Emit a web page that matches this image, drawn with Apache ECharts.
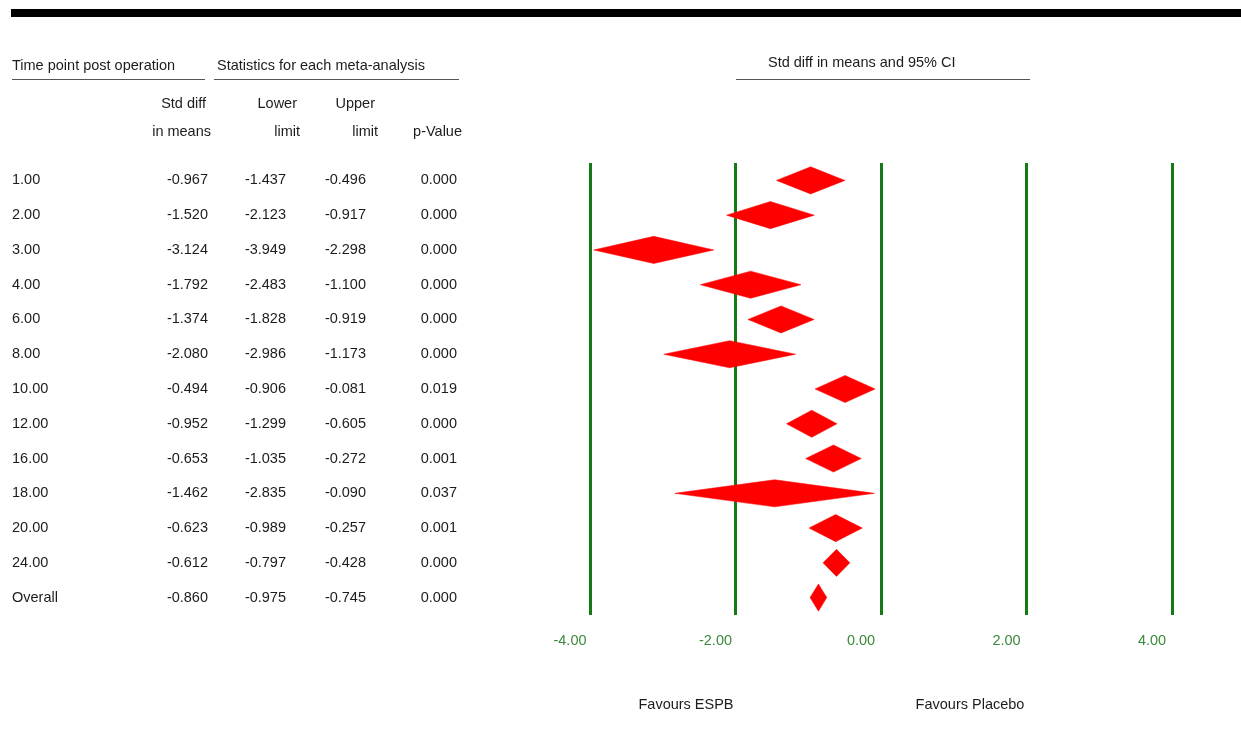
<!DOCTYPE html>
<html>
<head>
<meta charset="utf-8">
<script src="https://cdn.jsdelivr.net/npm/echarts@6/dist/echarts.min.js"></script>
<style>
html,body{margin:0;padding:0;background:#fff;}
#chart{width:1241px;height:738px;}
</style>
</head>
<body>
<div id="chart"></div>
<script>
// ---- data ----
var timePoints = ['1.00','2.00','3.00','4.00','6.00','8.00','10.00','12.00','16.00','18.00','20.00','24.00','Overall'];
var stdDiff = [-0.967,-1.520,-3.124,-1.792,-1.374,-2.080,-0.494,-0.952,-0.653,-1.462,-0.623,-0.612,-0.860];
var lowerLimit = [-1.437,-2.123,-3.949,-2.483,-1.828,-2.986,-0.906,-1.299,-1.035,-2.835,-0.989,-0.797,-0.975];
var upperLimit = [-0.496,-0.917,-2.298,-1.100,-0.919,-1.173,-0.081,-0.605,-0.272,-0.090,-0.257,-0.428,-0.745];
var pValues = ['0.000','0.000','0.000','0.000','0.000','0.000','0.019','0.000','0.001','0.037','0.001','0.000','0.000'];
var xTicks = [-4, -2, 0, 2, 4];

var FONT = '"Liberation Sans", Arial, sans-serif';
var FS = 14.5;
var TXT = '#1c1c1c';

var chart = echarts.init(document.getElementById('chart'), null, {renderer: 'canvas'});

function colAxis(values, offset, align) {
  return {
    type: 'category', data: timePoints, inverse: true, position: 'left', offset: offset,
    axisLine: {show: false}, axisTick: {show: false}, splitLine: {show: false},
    axisLabel: {
      show: true, interval: 0, margin: 0, align: align || 'right', verticalAlign: 'middle',
      padding: [0, 0, 12, 0],
      fontFamily: FONT, fontSize: FS, color: TXT,
      formatter: function (v, i) { return values[i]; }
    }
  };
}

var diamondData = stdDiff.map(function (v, i) { return [i, v, lowerLimit[i], upperLimit[i]]; });

function txt(x, y, s, align, color) {
  return {type: 'text', x: x, y: y, style: {text: s, fill: color || TXT, font: FS + 'px ' + FONT, textAlign: align || 'left', textVerticalAlign: 'middle'}};
}
function hline(x1, x2, y) {
  return {type: 'line', shape: {x1: x1, y1: y, x2: x2, y2: y}, style: {stroke: '#555', lineWidth: 1}};
}

var option = {
  backgroundColor: '#fff',
  animation: false,
  grid: {left: 590, right: 69, top: 163, bottom: 123, containLabel: false},
  xAxis: {
    type: 'value', min: -4, max: 4, interval: 2,
    axisLine: {show: false}, axisTick: {show: false},
    splitLine: {show: true, showMinLine: true, showMaxLine: true, lineStyle: {color: '#157a15', width: 3}},
    axisLabel: {
      margin: 18, fontFamily: FONT, fontSize: FS, color: '#3b8a3b',
      padding: [0, 40, 0, 0],
      formatter: function (v) { return xTicks.indexOf(v) >= 0 ? v.toFixed(2) : ''; }
    }
  },
  yAxis: [
    {type: 'category', data: timePoints, inverse: true, show: false},
    colAxis(timePoints, 578, 'left'),
    colAxis(stdDiff.map(function (v) { return v.toFixed(3); }), 382),
    colAxis(lowerLimit.map(function (v) { return v.toFixed(3); }), 304),
    colAxis(upperLimit.map(function (v) { return v.toFixed(3); }), 224),
    colAxis(pValues, 133)
  ],
  series: [{
    type: 'custom',
    yAxisIndex: 0,
    data: diamondData,
    encode: {y: 0, x: [1, 2, 3]},
    renderItem: function (params, api) {
      var row = api.value(0);
      var c = api.coord([api.value(1), row]);
      var lo = api.coord([api.value(2), row]);
      var hi = api.coord([api.value(3), row]);
      var h = api.size([0, 1])[1] * 0.39;
      return {
        type: 'polygon',
        shape: {points: [[lo[0], c[1]], [c[0], c[1] - h], [hi[0], c[1]], [c[0], c[1] + h]]},
        style: {fill: '#ff0000', stroke: '#ff0000', lineWidth: 0.5}
      };
    }
  }],
  graphic: [
    {type: 'rect', shape: {x: 11, y: 9, width: 1230, height: 8}, style: {fill: '#000'}},
    txt(12, 66, 'Time point post operation'),
    txt(217, 66, 'Statistics for each meta-analysis'),
    txt(768, 63, 'Std diff in means and 95% CI'),
    hline(12, 205, 79.5),
    hline(214, 459, 79.5),
    hline(736, 1030, 79.5),
    txt(206, 104, 'Std diff', 'right'),
    txt(211, 132, 'in means', 'right'),
    txt(297, 104, 'Lower', 'right'),
    txt(300, 132, 'limit', 'right'),
    txt(375, 104, 'Upper', 'right'),
    txt(378, 132, 'limit', 'right'),
    txt(462, 132, 'p-Value', 'right'),
    txt(686, 705, 'Favours ESPB', 'center'),
    txt(970, 705, 'Favours Placebo', 'center')
  ]
};
chart.setOption(option);
</script>
</body>
</html>
